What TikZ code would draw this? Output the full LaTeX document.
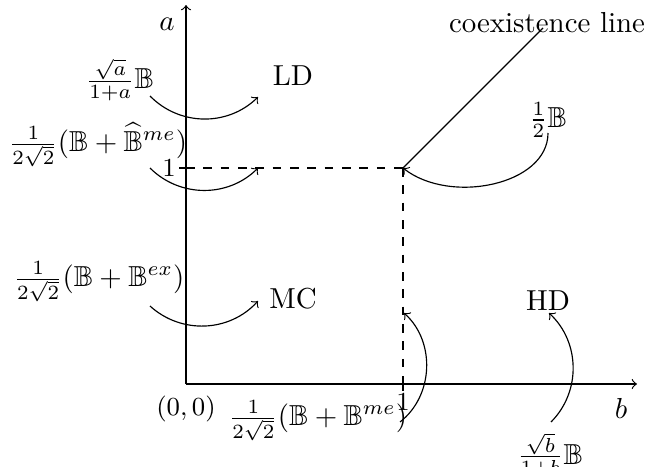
\documentclass[tikz,border=0pt]{standalone}
\usepackage{amssymb}
\begin{document}
\begin{tikzpicture}[x=0.346pt,y=-0.346pt,
  lbl/.style={inner sep=0pt},
  ticklbl/.style={inner sep=0pt,font=\small},
  arr/.style={->},
  axis/.style={->},
  guide/.style={dashed}]
\useasboundingbox (0,0) rectangle (647,466);
% axes
\coordinate (O) at (186,384);
\coordinate (Ytop) at (186,5);
\coordinate (Xend) at (637,384);
\coordinate (Ya) at (186,168);
\coordinate (Xb) at (403,384);
\coordinate (P) at (403,168);
\coordinate (C) at (543,28);
\draw[axis] (O) -- (Ytop);
\draw[axis] (O) -- (Xend);
\draw[guide] (Ya) -- (P);
\draw[guide] (P) -- (Xb);
\draw (Ya) ++(-7,0) -- ++(14,0);
\draw (Xb) ++(0,-7) -- ++(0,14);
\draw (P) -- (C);
% axis labels
\node[lbl] (la) at (167,24) {$a$};
\node[lbl] (lb) at (621,408) {$b$};
\node[ticklbl] (l00) at (186,409) {$(0,0)$};
\node[ticklbl] (l1y) at (169,168) {$1$};
\node[ticklbl] (l1x) at (403,402) {$1$};
\node[lbl] (coex) at (547,23) {coexistence line};
% regions
\node[lbl] (LD) at (293,76) {LD};
\node[lbl] (MC) at (293,299) {MC};
\node[lbl] (HD) at (548,301) {HD};
% rate labels
\node[lbl] (r1) at (120,80) {$\frac{\sqrt{a}}{1+a}\mathbb{B}$};
\node[lbl] (r2) at (98,145) {$\frac{1}{2\sqrt{2}}(\mathbb{B}+\widehat{\mathbb{B}}^{me})$};
\node[lbl] (r3) at (99,282) {$\frac{1}{2\sqrt{2}}(\mathbb{B}+\mathbb{B}^{ex})$};
\node[lbl] (r4) at (548,120) {$\frac{1}{2}\mathbb{B}$};
\node[lbl] (r5) at (318,421) {$\frac{1}{2\sqrt{2}}(\mathbb{B}+\mathbb{B}^{me})$};
\node[lbl] (r6) at (550,455) {$\frac{\sqrt{b}}{1+b}\mathbb{B}$};
% arrow end points
\coordinate (s1) at (150,96);  \coordinate (e1) at (258,97);
\coordinate (s2) at (150,168); \coordinate (e2) at (258,168);
\coordinate (s3) at (150,306); \coordinate (e3) at (258,301);
\coordinate (s4) at (548,133);
\coordinate (s5) at (400,422); \coordinate (e5) at (404,313);
\coordinate (s6) at (551,422); \coordinate (e6) at (549,313);
\draw[arr] (s1) to[bend right=45] (e1);
\draw[arr] (s2) to[bend right=45] (e2);
\draw[arr] (s3) to[bend right=45] (e3);
\draw[arr] (s4) .. controls +(0,52) and +(47,37) .. (P);
\draw[arr] (s5) to[bend right=50] (e5);
\draw[arr] (s6) to[bend right=46] (e6);
\end{tikzpicture}
\end{document}
